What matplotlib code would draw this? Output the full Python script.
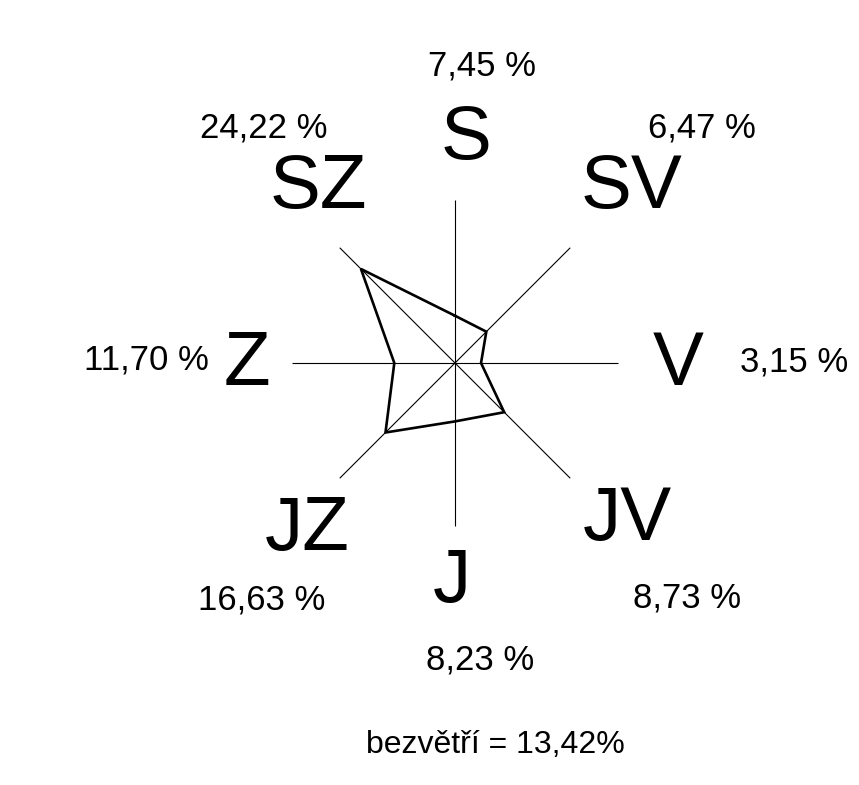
import matplotlib
matplotlib.use("Agg")
import matplotlib.pyplot as plt
import numpy as np

plt.rcParams["font.family"] = ["Liberation Sans", "DejaVu Sans"]

# directions clockwise from north
directions = ["S", "SV", "V", "JV", "J", "JZ", "Z", "SZ"]
angles_deg = [90, 45, 0, -45, -90, -135, 180, 135]
# frequency labels printed next to each direction (%)
freq_labels = [7.45, 6.47, 3.15, 8.73, 8.23, 16.63, 11.70, 24.22]
# radii of the drawn rose line (spoke = 30)
rose_r = [8.7, 8.15, 4.79, 12.81, 10.75, 18.09, 11.17, 24.48]
calm = 13.42
spoke_max = 30.0

# layout in pixels (figure 859x785, rose centre at 455,363)
W, H = 859, 785
CX, CY = 455, 363
SPOKE_PX = 163
dir_pos = [(466, 159), (632, 208), (678, 385), (627, 540),
           (452, 602), (307, 550), (247, 385), (318, 208)]
pct_pos = [(482, 75), (702, 137), (794, 371), (687, 607),
           (480, 670), (262, 610), (146, 370), (264, 137)]

fig = plt.figure(figsize=(W / 100, H / 100), dpi=100)
ax = fig.add_axes([0, 0, 1, 1])
ax.set_xlim(-CX, W - CX)
ax.set_ylim(-(H - CY), CY)
ax.set_aspect("equal")
ax.axis("off")

scale = SPOKE_PX / spoke_max
ang = np.radians(angles_deg)

# spokes
for a in ang:
    ax.plot([0, SPOKE_PX * np.cos(a)], [0, SPOKE_PX * np.sin(a)],
            color="black", lw=0.8, solid_capstyle="butt")

# rose line
r = np.array(rose_r + rose_r[:1]) * scale
a = np.append(ang, ang[0])
ax.plot(r * np.cos(a), r * np.sin(a), color="black", lw=1.9,
        solid_joinstyle="miter")

# labels
for name, (x, y) in zip(directions, dir_pos):
    ax.text(x - CX, CY - y, name, fontsize=55, ha="center", va="baseline")
for v, (x, y) in zip(freq_labels, pct_pos):
    txt = f"{v:.2f}".replace(".", ",") + " %"
    ax.text(x - CX, CY - y, txt, fontsize=25, ha="center", va="baseline")

ax.text(495 - CX, CY - 753, "bezvětří = " + f"{calm:.2f}".replace(".", ",") + "%",
        fontsize=23, ha="center", va="baseline")

fig.savefig("out.png", dpi=100, facecolor="white")
